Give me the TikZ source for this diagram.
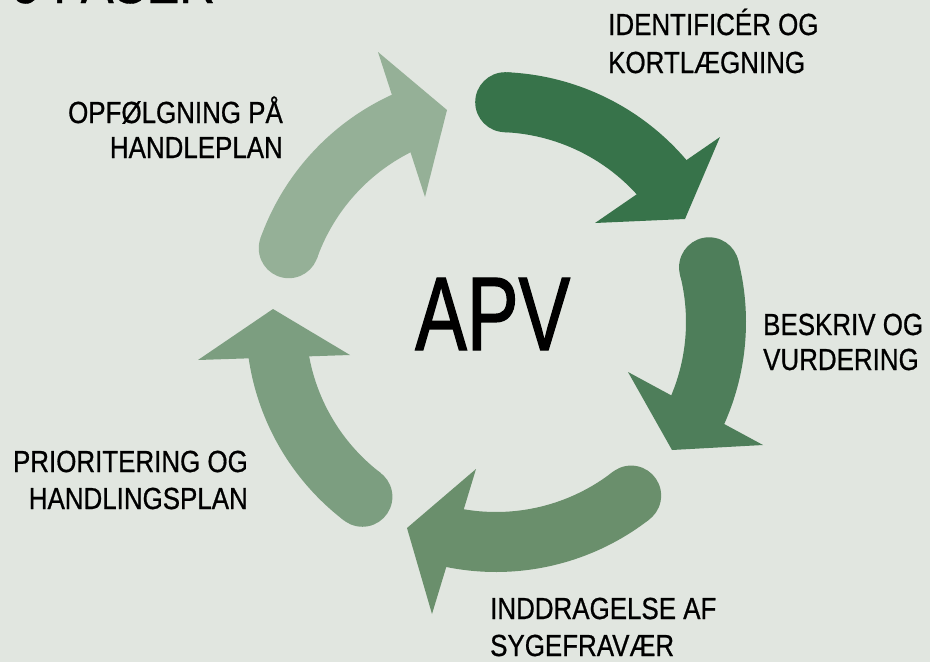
\documentclass[tikz,border=0pt]{standalone}
\usepackage{fontspec}
\newfontfamily\lab[FakeStretch=0.85,FakeBold=0.7]{Liberation Sans}
\newfontfamily\apvfont[FakeStretch=0.74,FakeBold=1.2]{Liberation Sans}
\definecolor{bg}{HTML}{E1E6E0}
\definecolor{cA}{HTML}{37734A}
\definecolor{cB}{HTML}{4E7E5A}
\definecolor{cC}{HTML}{6A8F6C}
\definecolor{cD}{HTML}{7C9E80}
\definecolor{cE}{HTML}{95B097}
\newcommand\apvarrow[6]{%
  \fill[#1] ({496+220*cos(#2)},{322+220*sin(#2)}) circle[radius=30];
  \draw[#1, line width=60pt] plot[domain=#2:#3, samples=40] ({496+220*cos(\x)},{322+220*sin(\x)});
  \fill[#1] #4 -- #5 -- #6 -- cycle;}
\begin{document}
\begin{tikzpicture}[x=1pt,y=-1pt,
  lbl/.style={font=\lab\fontsize{30.5}{37}\selectfont, inner sep=0pt, text=black}]
\fill[bg] (0,0) rectangle (930,662);
\useasboundingbox (0,0) rectangle (930,662);

\node[font=\lab\fontsize{58}{60}\selectfont, inner sep=0pt, anchor=base west] (title) at (12,3) {5 FASER};

\apvarrow{cA}{-87.6}{-39.4}{(720,137)}{(595,223)}{(685,219)}
\apvarrow{cB}{-14.4}{25.4}{(628,372)}{(763,445)}{(672,450)}
\apvarrow{cC}{52.1}{102.9}{(476,469)}{(432,614)}{(407,528)}
\apvarrow{cD}{127.4}{173}{(198,360)}{(350,355)}{(273,309)}
\apvarrow{cE}{199.6}{246.4}{(378,52)}{(425,197)}{(447,110)}

\node[font=\apvfont\fontsize{104.7}{110}\selectfont, inner sep=0pt, anchor=base west] (apv) at (415,350) {APV};

\node[lbl, anchor=base west] (l1a) at (608,35) {IDENTIFICÉR OG};
\node[lbl, anchor=base west] (l1b) at (608,73) {KORTLÆGNING};
\node[lbl, anchor=base west] (l2a) at (763,335) {BESKRIV OG};
\node[lbl, anchor=base west] (l2b) at (763,370) {VURDERING};
\node[lbl, anchor=base west] (l3a) at (490,619) {INDDRAGELSE AF};
\node[lbl, anchor=base west] (l3b) at (490,656) {SYGEFRAVÆR};
\node[lbl, anchor=base east] (l4a) at (248,472) {PRIORITERING OG};
\node[lbl, anchor=base east] (l4b) at (248,509) {HANDLINGSPLAN};
\node[lbl, anchor=base east] (l5a) at (283,123) {OPFØLGNING PÅ};
\node[lbl, anchor=base east] (l5b) at (283,158) {HANDLEPLAN};
\end{tikzpicture}
\end{document}
